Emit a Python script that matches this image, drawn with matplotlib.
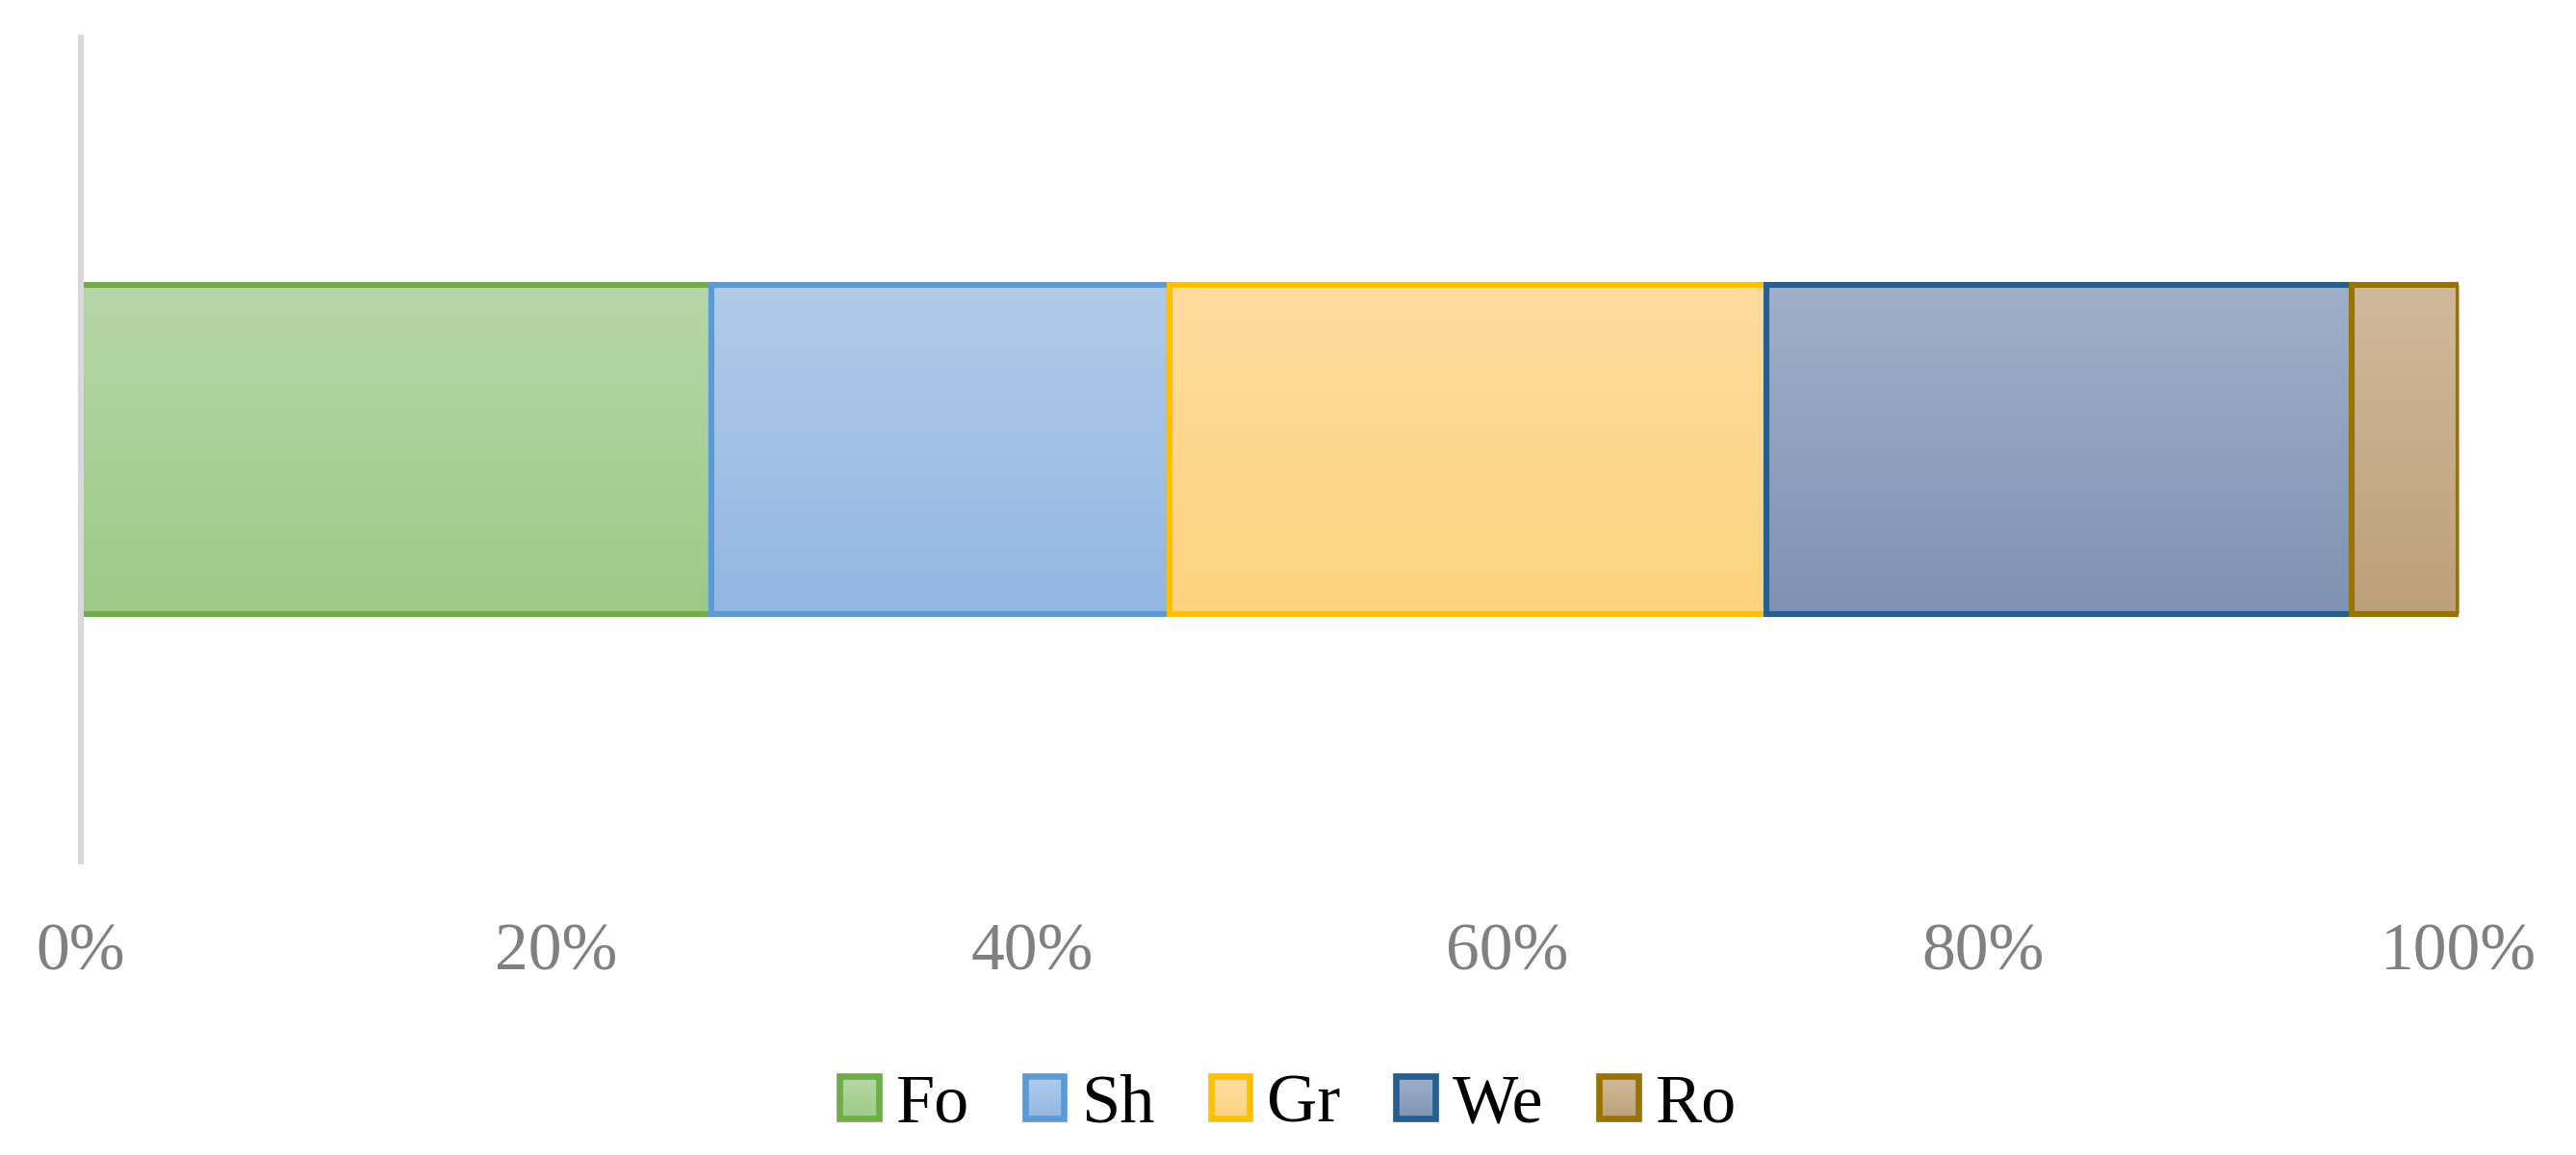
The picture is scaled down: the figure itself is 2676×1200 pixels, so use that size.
import numpy as np
import matplotlib
matplotlib.use("Agg")
import matplotlib.pyplot as plt
from matplotlib.patches import Rectangle
from matplotlib.colors import LinearSegmentedColormap
from matplotlib.legend_handler import HandlerBase

# shares of each class (percent of total)
categories = ["Fo", "Sh", "Gr", "We", "Ro"]
shares = [26.5, 19.3, 25.1, 24.6, 4.5]
tick_values = [0, 20, 40, 60, 80, 100]
tick_labels = ["0%", "20%", "40%", "60%", "80%", "100%"]

# fill gradient (top, bottom) and border colour for each class
grad_top = ["#B6D7A8", "#B1CBE9", "#FEDC9E", "#A0B0C9", "#D0B99B"]
grad_bottom = ["#9DCA87", "#92B7E3", "#FDD37E", "#7E92B4", "#BCA079"]
edge_cols = ["#70AD47", "#5B9BD5", "#FFC000", "#255E91", "#997300"]

plt.rcParams["font.family"] = ["Liberation Serif", "DejaVu Serif"]

fig = plt.figure(figsize=(13.38, 6.0), dpi=200)
ax = fig.add_axes([0.0314, 0.254, 0.9230, 0.7135])

left = 0.0
for i, name in enumerate(categories):
    bars = ax.barh([0], [shares[i]], left=left, height=0.4,
                   facecolor="none", edgecolor=edge_cols[i], linewidth=2.2,
                   zorder=3 + i, label=name)
    p = bars.patches[0]
    cmap = LinearSegmentedColormap.from_list("g%d" % i, [grad_bottom[i], grad_top[i]])
    grad = np.linspace(0, 1, 256).reshape(-1, 1)
    x0, y0 = p.get_x(), p.get_y()
    im = ax.imshow(grad, cmap=cmap, aspect="auto", origin="lower",
                   extent=[x0, x0 + p.get_width(), y0, y0 + p.get_height()],
                   zorder=2.5 + i, interpolation="bilinear")
    im.set_clip_path(p)
    left += shares[i]

ax.set_xlim(0, 100)
ax.set_ylim(-0.5, 0.5)
ax.set_yticks([])
ax.set_xticks(tick_values)
ax.set_xticklabels(tick_labels)
ax.tick_params(axis="x", length=0, pad=23, labelsize=25, labelcolor="#808080")
for s in ["top", "right", "bottom"]:
    ax.spines[s].set_visible(False)
ax.spines["left"].set_color("#D9D9D9")
ax.spines["left"].set_linewidth(2.2)
ax.spines["left"].set_zorder(10)


# legend keys with the same vertical gradient
class GradHandler(HandlerBase):
    def __init__(self, top, bottom, edge):
        super().__init__()
        self.top, self.bottom, self.edge = top, bottom, edge

    def create_artists(self, legend, orig_handle, xdescent, ydescent,
                       width, height, fontsize, trans):
        arts = []
        n = 12
        tc = np.array(matplotlib.colors.to_rgb(self.top))
        bc = np.array(matplotlib.colors.to_rgb(self.bottom))
        for k in range(n):
            c = bc + (tc - bc) * (k + 0.5) / n
            r = Rectangle((-xdescent, -ydescent + height * k / n), width, height / n + 0.2,
                          facecolor=c, edgecolor="none", transform=trans)
            arts.append(r)
        border = Rectangle((-xdescent, -ydescent), width, height, facecolor="none",
                           edgecolor=self.edge, linewidth=2.4, transform=trans)
        arts.append(border)
        return arts


handles = [Rectangle((0, 0), 1, 1) for _ in categories]
hmap = {h: GradHandler(grad_top[i], grad_bottom[i], edge_cols[i]) for i, h in enumerate(handles)}
fig.legend(handles, categories, handler_map=hmap, loc="center",
           bbox_to_anchor=(0.5, 0.043), ncol=5, frameon=False, fontsize=26,
           handlelength=0.56, handleheight=0.56, handletextpad=0.25,
           columnspacing=0.8)

fig.savefig("out.png", dpi=200, facecolor="white")
